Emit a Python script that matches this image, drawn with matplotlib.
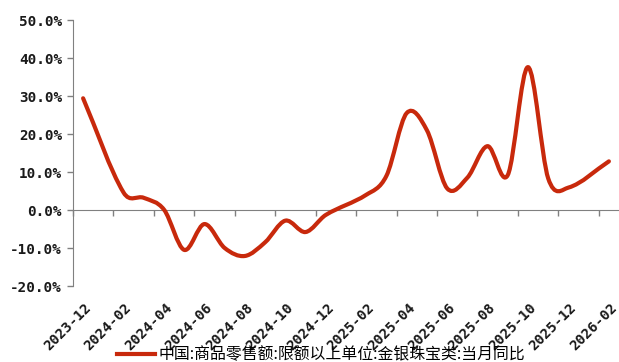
import numpy as np
import matplotlib
matplotlib.use("Agg")
import matplotlib.pyplot as plt
from matplotlib.path import Path
from matplotlib.patches import PathPatch
from matplotlib.lines import Line2D
import matplotlib.transforms as mtransforms

# 月份轴（逐月分类），1月与2月合并公布，1月无单独数据
months = ["2023-12", "2024-01", "2024-02", "2024-03", "2024-04", "2024-05", "2024-06",
          "2024-07", "2024-08", "2024-09", "2024-10", "2024-11", "2024-12",
          "2025-01", "2025-02", "2025-03", "2025-04", "2025-05", "2025-06",
          "2025-07", "2025-08", "2025-09", "2025-10", "2025-11", "2025-12",
          "2026-01", "2026-02"]
data_months = ["2023-12", "2024-02", "2024-03", "2024-04", "2024-05", "2024-06",
               "2024-07", "2024-08", "2024-09", "2024-10", "2024-11", "2024-12",
               "2025-02", "2025-03", "2025-04", "2025-05", "2025-06", "2025-07",
               "2025-08", "2025-09", "2025-10", "2025-11", "2025-12", "2026-02"]
yoy = [29.4, 4.6, 3.2, 0.1, -10.5, -3.7, -10.0, -12.1, -8.5, -2.8, -5.8, -1.3,
       4.0, 9.0, 25.5, 21.0, 5.7, 8.5, 16.8, 9.2, 37.6, 8.3, 5.9, 12.8]
series_name = "中国:商品零售额:限额以上单位:金银珠宝类:当月同比"

LINE_COLOR = "#C8290C"
AXIS_COLOR = "#808080"
TEXT_COLOR = "#1a1a1a"
MONO = {"family": "DejaVu Sans Mono", "weight": "bold", "size": 10.3}


def smooth_path(x, y):
    # 平滑折线：按实际x间距的三次Hermite曲线，转成贝塞尔段
    x = np.asarray(x, float)
    y = np.asarray(y, float)
    n = len(x)
    m = np.zeros(n)
    m[0] = (y[1] - y[0]) / (x[1] - x[0])
    m[-1] = (y[-1] - y[-2]) / (x[-1] - x[-2])
    for i in range(1, n - 1):
        m[i] = (y[i + 1] - y[i - 1]) / (x[i + 1] - x[i - 1])
    verts = [(x[0], y[0])]
    codes = [Path.MOVETO]
    for i in range(n - 1):
        h = (x[i + 1] - x[i]) / 3.0
        verts += [(x[i] + h, y[i] + m[i] * h),
                  (x[i + 1] - h, y[i + 1] - m[i + 1] * h),
                  (x[i + 1], y[i + 1])]
        codes += [Path.CURVE4] * 3
    return Path(verts, codes)


fig = plt.figure(figsize=(6.19, 3.62), dpi=100)
ax = fig.add_axes([73 / 619, 76 / 362, 1 - 73 / 619, 266 / 362])

xpos = [months.index(m) for m in data_months]
patch = PathPatch(smooth_path(xpos, yoy), facecolor="none", edgecolor=LINE_COLOR,
                  lw=3, capstyle="round", joinstyle="round", zorder=3)
ax.add_patch(patch)

ax.set_xlim(-0.5, len(months) - 0.5)
ax.set_ylim(-20, 50)

# y轴
ax.set_yticks(np.arange(-20, 51, 10))
ax.set_yticklabels([f"{v:.1f}%" for v in np.arange(-20, 51, 10)], fontdict=MONO,
                   color=TEXT_COLOR)
ax.tick_params(axis="y", direction="out", length=4, width=1, color=AXIS_COLOR, pad=4)
ax.spines["left"].set_color(AXIS_COLOR)
ax.spines["right"].set_visible(False)
ax.spines["top"].set_visible(False)

# x轴穿过0，刻度线在分类边界处（每两个月一个）
ax.spines["bottom"].set_position(("data", 0))
ax.spines["bottom"].set_color(AXIS_COLOR)
ax.set_xticks(np.arange(-0.5, len(months) - 0.5, 2))
ax.set_xticklabels([])
ax.tick_params(axis="x", direction="out", length=4, width=1, color=AXIS_COLOR)

# 分类标签放在图表底部
trans = mtransforms.offset_copy(ax.get_xaxis_transform(), fig=fig, x=1, y=-15,
                                units="dots")
for i, m in enumerate(months):
    if i % 2 == 0:
        ax.text(i, 0, m, transform=trans, rotation=45, rotation_mode="anchor",
                ha="right", va="top", color=TEXT_COLOR, **MONO)

handle = Line2D([], [], color=LINE_COLOR, lw=3)
fig.legend([handle], [series_name], loc="center", bbox_to_anchor=(321 / 619, 1 - 355 / 362),
           frameon=False, handlelength=2.4, handletextpad=0.2, borderpad=0,
           prop={"family": ["Noto Sans CJK SC", "DejaVu Sans"], "size": 11.4})

fig.savefig("out.png", dpi=100)
